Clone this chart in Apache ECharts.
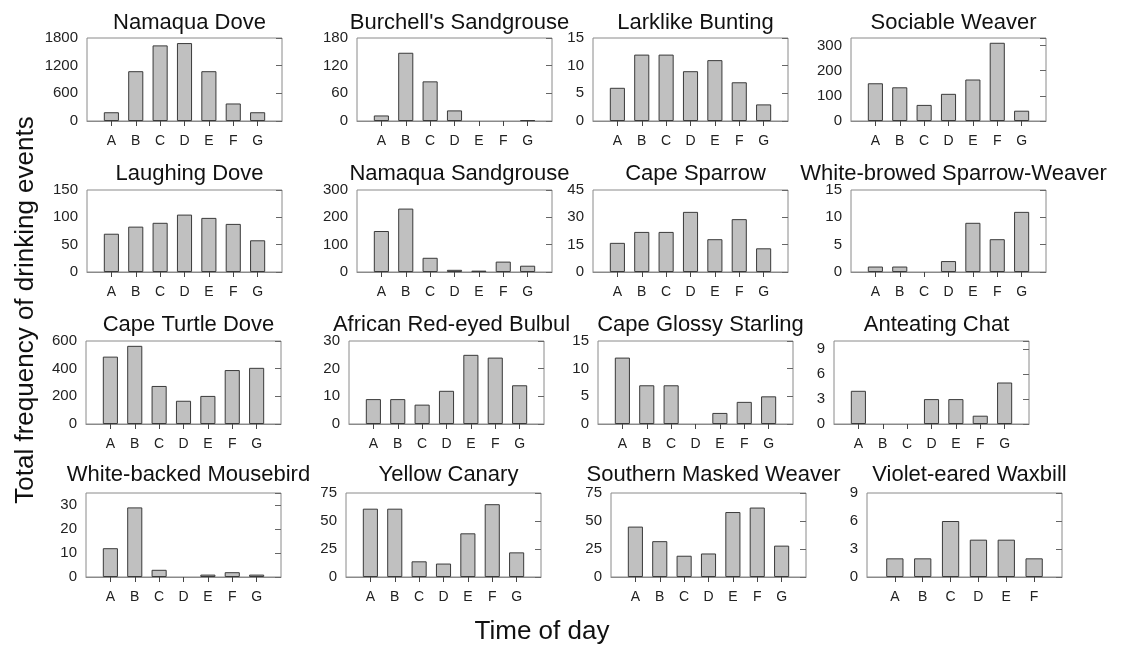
<!DOCTYPE html>
<html>
<head>
<meta charset="utf-8">
<script src="https://cdn.jsdelivr.net/npm/echarts@6/dist/echarts.min.js"></script>
<style>
html,body{margin:0;padding:0;background:#fff;}
#chart{width:1142px;height:648px;}
</style>
</head>
<body>
<div id="chart"></div>
<script>
// ---- data ----
const categories = ['A', 'B', 'C', 'D', 'E', 'F', 'G'];
const categoriesWaxbill = ['A', 'B', 'C', 'D', 'E', 'F'];

const namaquaDove = [190, 1080, 1640, 1690, 1080, 380, 190];
const burchellsSandgrouse = [12, 148, 86, 23, 0, 0, 2];
const larklikeBunting = [6, 12, 12, 9, 11, 7, 3];
const sociableWeaver = [150, 134, 64, 108, 165, 311, 41];
const laughingDove = [70, 83, 90, 105, 99, 88, 58];
const namaquaSandgrouse = [150, 232, 52, 8, 5, 38, 23];
const capeSparrow = [16, 22, 22, 33, 18, 29, 13];
const whiteBrowedSparrowWeaver = [1, 1, 0, 2, 9, 6, 11];
const capeTurtleDove = [487, 565, 275, 168, 203, 390, 406];
const africanRedEyedBulbul = [9, 9, 7, 12, 25, 24, 14];
const capeGlossyStarling = [12, 7, 7, 0, 2, 4, 5];
const anteatingChat = [4, 0, 0, 3, 3, 1, 5];
const whiteBackedMousebird = [12, 29, 3, 0, 1, 2, 1];
const yellowCanary = [61, 61, 14, 12, 39, 65, 22];
const southernMaskedWeaver = [45, 32, 19, 21, 58, 62, 28];
const violetEaredWaxbill = [2, 2, 6, 4, 4, 2];

const titles = ['Namaqua Dove', "Burchell's Sandgrouse", 'Larklike Bunting', 'Sociable Weaver',
  'Laughing Dove', 'Namaqua Sandgrouse', 'Cape Sparrow', 'White-browed Sparrow-Weaver',
  'Cape Turtle Dove', 'African Red-eyed Bulbul', 'Cape Glossy Starling', 'Anteating Chat',
  'White-backed Mousebird', 'Yellow Canary', 'Southern Masked Weaver', 'Violet-eared Waxbill'];
const seriesValues = [namaquaDove, burchellsSandgrouse, larklikeBunting, sociableWeaver,
  laughingDove, namaquaSandgrouse, capeSparrow, whiteBrowedSparrowWeaver,
  capeTurtleDove, africanRedEyedBulbul, capeGlossyStarling, anteatingChat,
  whiteBackedMousebird, yellowCanary, southernMaskedWeaver, violetEaredWaxbill];
const panelCategories = [categories, categories, categories, categories,
  categories, categories, categories, categories,
  categories, categories, categories, categories,
  categories, categories, categories, categoriesWaxbill];
// y-axis max and tick step
const yMax = [1800, 180, 15, 330, 150, 300, 45, 15, 600, 30, 15, 10, 35, 75, 75, 9];
const yStep = [600, 60, 5, 100, 50, 100, 15, 5, 200, 10, 5, 3, 10, 25, 25, 3];

const yAxisTitle = 'Total frequency of drinking events';
const xAxisTitle = 'Time of day';

// ---- layout (positions only) ----
const boxLeft = [
  87, 357, 593, 851,
  87, 357, 593, 851,
  86, 349, 598, 834,
  86, 346, 611, 867
];
const rowTop = [38, 190, 341, 493];
const rowBottom = [121, 272, 424, 577];
const titleTop = [7, 158, 309, 459];
const boxWidth = 195;

const chart = echarts.init(document.getElementById('chart'), null, {renderer: 'canvas'});

const grid = [], xAxis = [], yAxis = [], series = [], title = [];
const FONT = '"Liberation Sans", Arial, Helvetica, sans-serif';

for (let i = 0; i < 16; i++) {
  const r = Math.floor(i / 4);
  const left = boxLeft[i];
  const top = rowTop[r];
  const h = rowBottom[r] - rowTop[r];
  grid.push({left: left, top: top, width: boxWidth, height: h,
    show: true, borderColor: '#8a8a8a', borderWidth: 1, backgroundColor: 'transparent', containLabel: false});
  const cats = [''].concat(panelCategories[i]).concat(['']);
  const n = cats.length;
  xAxis.push({
    type: 'category', gridIndex: i, data: cats, boundaryGap: false,
    axisLine: {show: true, lineStyle: {color: '#8a8a8a', width: 1}},
    axisTick: {show: true, length: 5, inside: false, lineStyle: {color: '#444'},
      interval: function (idx) { return idx > 0 && idx < n - 1; }},
    axisLabel: {show: true, interval: 0, margin: 13, color: '#222', fontSize: 14, fontFamily: FONT},
    splitLine: {show: false}
  });
  const showMax = (yMax[i] % yStep[i] === 0);
  yAxis.push({
    type: 'value', gridIndex: i, min: 0, max: yMax[i], interval: yStep[i], position: 'left',
    axisLine: {show: false}, axisTick: {show: false}, splitLine: {show: false},
    axisLabel: {show: true, margin: 9, color: '#222', fontSize: 15, fontFamily: FONT, showMaxLabel: showMax,
      formatter: function (v) { return String(v); }}
  });
  yAxis.push({
    type: 'value', gridIndex: i, min: 0, max: yMax[i], interval: yStep[i], position: 'right',
    axisLine: {show: false}, splitLine: {show: false}, axisLabel: {show: false},
    axisTick: {show: true, inside: true, length: 6, lineStyle: {color: '#666'}}
  });
  const barData = [null].concat(seriesValues[i].map(function (v) {
    return v === 0 ? {value: v, itemStyle: {borderWidth: 0, opacity: 0}} : v;
  })).concat([null]);
  series.push({
    type: 'bar', xAxisIndex: i, yAxisIndex: 2 * i,
    data: barData,
    barWidth: '62%',
    itemStyle: {color: '#c0c0c0', borderColor: '#3a3a3a', borderWidth: 1},
    silent: true, animation: false
  });
  title.push({
    text: titles[i], left: left + boxWidth / 2, top: titleTop[r], textAlign: 'center',
    textStyle: {fontSize: 22, fontWeight: 'normal', color: '#111', fontFamily: FONT}
  });
}

chart.setOption({
  animation: false,
  backgroundColor: '#ffffff',
  title: title,
  grid: grid,
  xAxis: xAxis,
  yAxis: yAxis,
  series: series,
  graphic: [
    {type: 'text', x: 26, y: 310, rotation: Math.PI / 2,
      style: {text: yAxisTitle, fontSize: 26, fontFamily: FONT, fill: '#111', align: 'center', verticalAlign: 'middle'}},
    {type: 'text', x: 542, y: 632,
      style: {text: xAxisTitle, fontSize: 26, fontFamily: FONT, fill: '#111', align: 'center', verticalAlign: 'middle'}}
  ]
});
</script>
</body>
</html>
